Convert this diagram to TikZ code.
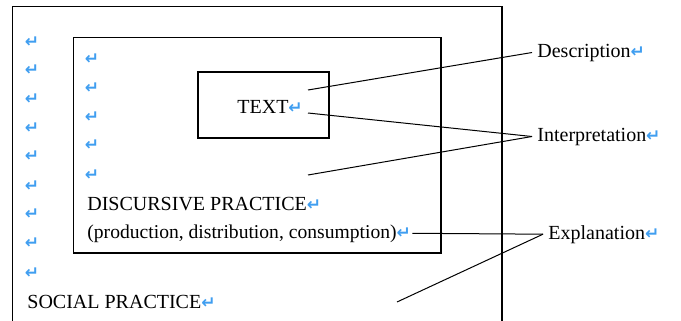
\documentclass[tikz,border=0pt]{standalone}
\usepackage{fontspec}
\setmainfont{Liberation Serif}
\newfontfamily\retfont{DejaVu Sans}
\usepackage{tikz}
\definecolor{retblue}{RGB}{64,158,240}
\newcommand{\pmfont}{\retfont\bfseries\fontsize{8.5}{9}\selectfont}
\newcommand{\pmark}{{\color{retblue}\pmfont ↵}}

\begin{document}
\begin{tikzpicture}[x=0.5pt,y=-0.5pt,font=\fontsize{10}{12}\selectfont,
                    frame/.style={draw,semithick},
                    lbl/.style={inner sep=0pt,anchor=base west},
                    tag/.style={inner xsep=2.5pt,inner ysep=0pt,anchor=base west},
                    pm/.style={inner sep=0pt},
                    link/.style={line width=0.5pt}]

  \useasboundingbox (0,0) rectangle (681,321);
  \clip (0,0) rectangle (681,321);

  % the three frames
  \draw[frame] (12.5,6.5) rectangle (502,340);
  \draw[frame] (73.5,37.5) rectangle (441,253);
  \draw[frame] (198,72) rectangle (329,138);

  % empty paragraphs, outer frame
  \node[pm] (o1) at (32,42)  {\pmark};
  \node[pm] (o2) at (32,70)  {\pmark};
  \node[pm] (o3) at (32,99)  {\pmark};
  \node[pm] (o4) at (32,128) {\pmark};
  \node[pm] (o5) at (32,156) {\pmark};
  \node[pm] (o6) at (32,186) {\pmark};
  \node[pm] (o7) at (32,214) {\pmark};
  \node[pm] (o8) at (32,243) {\pmark};
  \node[pm] (o9) at (32,273) {\pmark};

  % empty paragraphs, inner frame
  \node[pm] (n1) at (92,59)  {\pmark};
  \node[pm] (n2) at (92,88)  {\pmark};
  \node[pm] (n3) at (92,117) {\pmark};
  \node[pm] (n4) at (92,145) {\pmark};
  \node[pm] (n5) at (92,175) {\pmark};

  \node[lbl] (text)   at (237,113) {TEXT\pmark};
  \node[lbl] (disc)   at (87,210)  {DISCURSIVE PRACTICE\pmark};
  \node[lbl,inner xsep=0.5pt,font=\fontsize{9.8}{12}\selectfont] (prod) at (86,238)
        {(production,\ distribution,\ consumption)\pmark};
  \node[lbl] (social) at (27,308)  {SOCIAL PRACTICE\pmark};

  \node[tag] (descr)  at (532,57)  {Description\pmark};
  \node[tag] (interp) at (532,141) {Interpretation\pmark};
  \node[tag] (expl)   at (543,239) {Explanation\pmark};

  \coordinate (d0) at (308,90);
  \coordinate (i0) at (308,113);
  \coordinate (i1) at (308,175);
  \coordinate (e1) at (397,302);

  \path[link] (d0)        edge (descr.west)
              (i0)        edge (interp.west)
              (i1)        edge (interp.west)
              (prod.east) edge (expl.west)
              (e1)        edge (expl.west);
\end{tikzpicture}
\end{document}
